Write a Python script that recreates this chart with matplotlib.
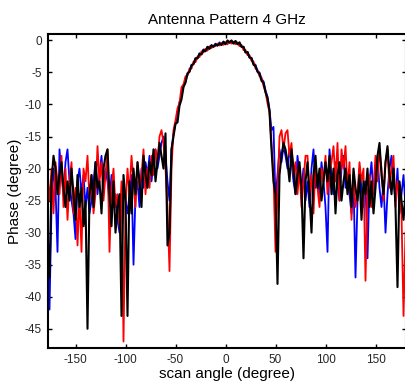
import numpy as np
import matplotlib
matplotlib.use('Agg')
import matplotlib.pyplot as plt

plt.rcParams['font.family'] = ['Liberation Sans', 'DejaVu Sans']
plt.rcParams['axes.unicode_minus'] = False

# scan angles, 2 degree steps
angle = np.arange(-178, 181, 2)

blue = [
    -25, -42, -26, -20, -23, -33, -17, -21, -24, -19,
    -17, -22, -25, -27, -31, -22, -20, -24, -21, -26,
    -23, -27, -25, -22, -19, -24, -21, -18, -23, -20,
    -22, -25, -21, -26, -24, -28, -30, -26, -22, -25,
    -27, -24, -21, -35, -24, -22, -26, -20, -23, -19,
    -21, -18, -22, -19, -17, -20, -18, -16, -15, -18,
    -22, -25, -17, -14.5, -13, -11.5, -9.6, -8.7, -6.9, -6.4,
    -5.1, -4.8, -3.8, -3.7, -2.8, -2.8, -2.0, -2.1, -1.4, -1.6,
    -1.0, -1.3, -0.7, -1.0, -0.5, -0.8, -0.3, -0.7, -0.2, -0.5,
    -0.1, -0.4, -0.1, -0.4, -0.1, -0.6, -0.4, -1.0, -1.0, -1.8,
    -1.8, -2.6, -2.7, -3.6, -3.8, -4.8, -5.0, -6.0, -6.4, -7.8,
    -8.8, -10.8, -14, -13.5, -25, -21, -17, -19, -16.5, -18,
    -20, -17, -19, -22, -24, -18, -21, -23, -20, -25,
    -22, -26, -20, -17, -23, -21, -24, -19, -22, -26,
    -33, -17, -21, -24, -19, -22, -25, -20, -18, -23,
    -21, -24, -27, -22, -37, -25, -20, -23, -26, -22,
    -34, -22, -19, -24, -21, -18, -23, -26, -22, -30,
    -24, -20, -18, -22, -25, -20, -27, -24, -21, -26,
]

red = [
    -21, -25, -20, -27, -19, -22, -24, -18, -26, -20,
    -28, -22, -19, -27, -23, -32, -24, -33, -20, -22,
    -18, -25, -21, -27, -24, -16.5, -22, -19, -25, -21,
    -17, -33, -23, -20, -26, -24, -29, -22, -47, -26,
    -20, -24, -18, -22, -26, -19, -23, -21, -17, -24,
    -20, -23, -18, -21, -17, -19, -15, -14, -16, -20,
    -26, -36, -20, -14, -12.5, -10.6, -9.8, -7.3, -6.9, -5.6,
    -5.5, -4.4, -4.4, -3.3, -3.4, -2.5, -2.6, -1.7, -1.9, -1.3,
    -1.6, -0.9, -1.2, -0.8, -0.9, -0.5, -0.8, -0.4, -0.7, -0.3,
    -0.6, -0.2, -0.5, -0.2, -0.6, -0.3, -0.9, -0.7, -1.5, -1.5,
    -2.3, -2.3, -3.2, -3.3, -4.4, -4.6, -5.6, -5.8, -7.1, -8.0,
    -9.8, -11.2, -16, -21, -33, -24, -15, -14, -17, -14.5,
    -14, -18, -16, -21, -19, -24, -20, -26, -22, -18,
    -18, -24, -21, -27, -19, -23, -26, -20, -22, -18,
    -24, -21, -19, -16.5, -22, -16, -25, -17, -20, -16.5,
    -23, -19, -28, -21, -26, -24, -19, -22, -20, -37.5,
    -24, -21, -26, -23, -18, -22, -17, -20, -25, -19,
    -17, -23, -20, -18, -26, -22, -24, -27, -43, -30,
]

black = [
    -30, -37, -22, -18, -20, -24, -21, -19, -23, -26,
    -22, -25, -20, -24, -28, -21, -26, -23, -29, -25,
    -45, -24, -21, -26, -19, -23, -22, -27, -20, -18,
    -17, -24, -29, -22, -30, -26, -24, -43, -21, -25,
    -43, -22, -27, -20, -24, -19, -22, -26, -18, -21,
    -23, -19, -21, -17, -22, -19, -16, -18, -20, -14.5,
    -32, -30, -17, -15, -13, -12.8, -10.2, -9.2, -7.3, -6.6,
    -5.2, -4.9, -3.9, -3.7, -2.8, -2.8, -2.1, -2.2, -1.5, -1.7,
    -1.0, -1.3, -0.8, -1.0, -0.6, -0.8, -0.5, -0.7, -0.2, -0.6,
    0.0, -0.3, 0.0, -0.5, -0.1, -0.6, -0.3, -1.0, -1.0, -1.9,
    -1.8, -2.7, -2.8, -3.8, -4.0, -4.9, -5.2, -6.3, -6.6, -8.1,
    -9.0, -11.0, -17, -22, -24, -38, -21, -18, -16, -17,
    -19, -22, -17, -20, -24, -21, -19, -23, -34, -22,
    -19, -24, -30, -21, -18, -23, -20, -25, -22, -19,
    -22, -18, -24, -20, -27, -21, -19, -25, -22, -20,
    -24, -21, -26, -20, -23, -25, -21, -28, -22, -24,
    -20, -26, -22, -27, -23, -18, -16, -21, -24, -19,
    -16.5, -21, -24, -20, -26, -38.5, -22, -25, -28, -24,
]

xticks = [-150, -100, -50, 0, 50, 100, 150]
yticks = [0, -5, -10, -15, -20, -25, -30, -35, -40, -45]

fig = plt.figure(figsize=(4.05, 3.9), dpi=100)
ax = fig.add_axes([47.5 / 405, 42 / 390, 358 / 405, 314 / 390])

ax.plot(angle, blue, color='#0000ff', lw=1.3)
ax.plot(angle, red, color='#ff0000', lw=1.3)
ax.plot(angle, black, color='black', lw=1.5)

ax.set_xlim(-178, 180)
ax.set_ylim(-48, 1)
ax.set_xticks(xticks)
ax.set_yticks(yticks)
ax.tick_params(direction='in', length=3, width=1, top=True, right=True,
               labelsize=8.5, colors='black', pad=4)
ax.tick_params(labelcolor='#262626')
for s in ax.spines.values():
    s.set_linewidth(1.5)

ax.set_title('Antenna Pattern 4 GHz', fontsize=11, pad=7)
ax.set_xlabel('scan angle (degree)', fontsize=11, labelpad=1)
ax.set_ylabel('Phase (degree)', fontsize=11, labelpad=2)

fig.savefig('out.png', dpi=100)
